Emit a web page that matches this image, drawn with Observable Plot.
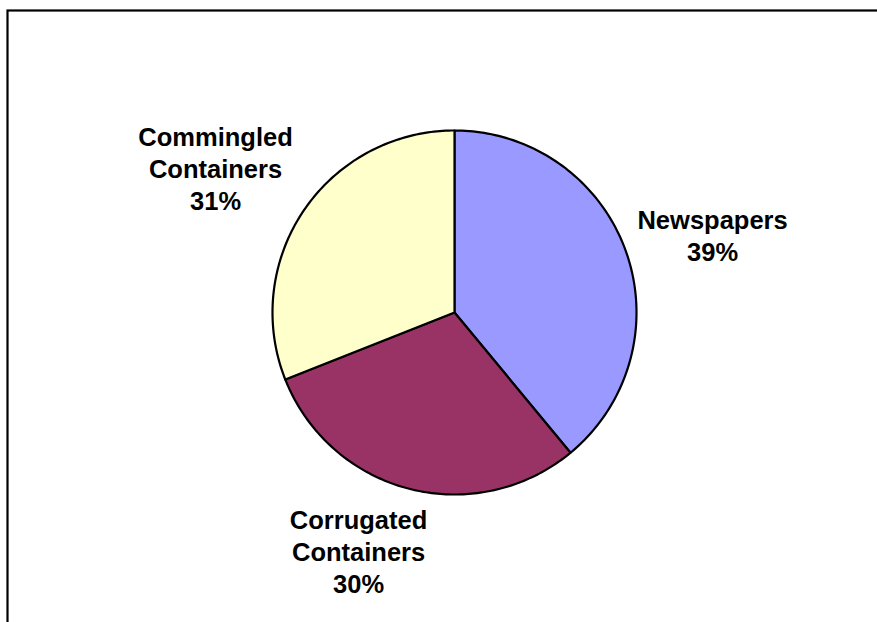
<!DOCTYPE html>
<html>
<head>
<meta charset="utf-8">
<script src="https://cdn.jsdelivr.net/npm/d3@7"></script>
<script src="https://cdn.jsdelivr.net/npm/@observablehq/plot@0.6"></script>
<style>
  html, body { margin: 0; padding: 0; background: #fff; overflow: hidden; }
  #chart { width: 877px; height: 622px; overflow: hidden; }
</style>
</head>
<body>
<div id="chart"></div>
<script>
const categories = ["Newspapers", "Corrugated\nContainers", "Commingled\nContainers"];
const values = [39, 30, 31];
const colors = ["#9999FF", "#993366", "#FFFFCC"];
// label anchor positions in the pie's unit coordinates (radius = 1)
const labelX = [1.418, -0.527, -1.313];
const labelY = [0.428, -1.307, 0.797];

const total = d3.sum(values);
const pie = d3.pie().sort(null).value(d => d)(values);

const slicePts = [];
pie.forEach((p, i) => {
  const steps = 120;
  slicePts.push({k: i, x: 0, y: 0});
  for (let s = 0; s <= steps; s++) {
    const a = p.startAngle + (p.endAngle - p.startAngle) * s / steps;
    slicePts.push({k: i, x: Math.sin(a), y: Math.cos(a)});
  }
  slicePts.push({k: i, x: 0, y: 0});
});

const labels = categories.map((c, i) => ({
  text: c + "\n" + Math.round(values[i] / total * 100) + "%",
  x: labelX[i], y: labelY[i]
}));

const cx = 454, cy = 312, R = 182;

const chart = Plot.plot({
  width: 877,
  height: 622,
  marginLeft: 7,
  marginTop: 10,
  marginRight: 0,
  marginBottom: 0,
  x: {domain: [-1, 1], range: [cx - R, cx + R], axis: null},
  y: {domain: [-1, 1], range: [cy + R, cy - R], axis: null},
  style: {background: "white", overflow: "hidden"},
  marks: [
    Plot.frame({stroke: "black", strokeWidth: 2.2, insetRight: -10, insetBottom: -10}),
    Plot.line(slicePts, {
      x: "x", y: "y", z: "k", fill: d => colors[d.k],
      stroke: "black", strokeWidth: 2.2, strokeLinejoin: "round", curve: "linear"
    }),
    Plot.text(labels, {
      x: "x", y: "y", text: "text",
      textAnchor: "middle", lineAnchor: "middle", lineHeight: 1.26,
      fontSize: 25.5, fontWeight: "bold",
      fontFamily: "Arial, 'Liberation Sans', sans-serif", fill: "black"
    })
  ]
});
document.getElementById("chart").appendChild(chart);
</script>
</body>
</html>
